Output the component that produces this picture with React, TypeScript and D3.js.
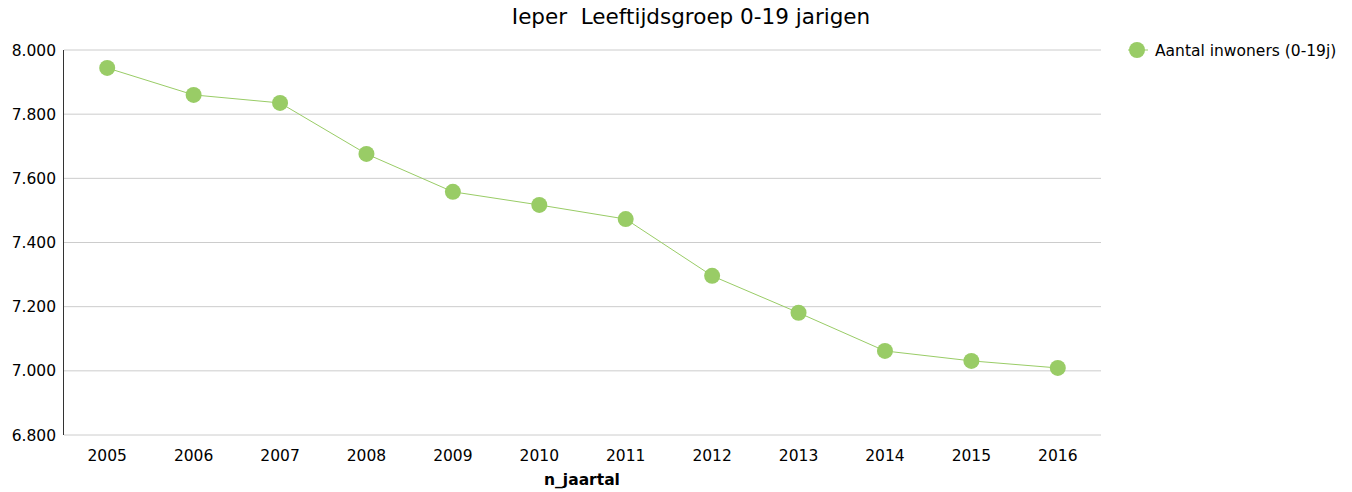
import React from "react";
import * as d3 from "d3";

const years = ["2005", "2006", "2007", "2008", "2009", "2010", "2011", "2012", "2013", "2014", "2015", "2016"];
const inwoners = [7944, 7860, 7835, 7676, 7558, 7517, 7473, 7296, 7181, 7062, 7031, 7009];
const yTicks = [6800, 7000, 7200, 7400, 7600, 7800, 8000];

const W = 1352;
const H = 492;
const margin = { left: 64, right: 251, top: 50, bottom: 57 };
const green = "#99cc66";
const font = "'DejaVu Sans', Verdana, sans-serif";

const fmt = (v: number) => d3.format(",")(v).replace(",", ".");

const App = () => {
  const x = d3
    .scaleBand<string>()
    .domain(years)
    .range([margin.left, W - margin.right]);
  const y = d3
    .scaleLinear()
    .domain([6800, 8000])
    .range([H - margin.bottom, margin.top]);

  const line = d3
    .line<number>()
    .x((_, i) => x(years[i])! + x.bandwidth() / 2)
    .y((d) => y(d));

  return (
    <svg width={W} height={H} style={{ position: "absolute", left: 0, top: 0 }} fontFamily={font}>
      <text x={691} y={24} textAnchor="middle" fontSize={21.5} fill="#000" style={{ whiteSpace: "pre" }}>
        {"Ieper  Leeftijdsgroep 0-19 jarigen"}
      </text>
      {yTicks.map((t) => (
        <g key={t}>
          <line x1={margin.left} x2={W - margin.right} y1={y(t)} y2={y(t)} stroke="#cccccc" strokeWidth={1} />
          <text x={56} y={y(t) + 5.5} textAnchor="end" fontSize={15.5} fill="#000">
            {fmt(t)}
          </text>
        </g>
      ))}
      <line x1={margin.left - 0.5} x2={margin.left - 0.5} y1={margin.top} y2={H - margin.bottom} stroke="#333" strokeWidth={1} />
      {years.map((yr) => (
        <text key={yr} x={x(yr)! + x.bandwidth() / 2} y={461} textAnchor="middle" fontSize={15.5} fill="#000">
          {yr}
        </text>
      ))}
      <text x={582} y={485} textAnchor="middle" fontSize={15.5} fontWeight="bold" fill="#000">
        n_jaartal
      </text>
      <path d={line(inwoners) ?? ""} fill="none" stroke={green} strokeWidth={1} />
      {inwoners.map((v, i) => (
        <circle key={i} cx={x(years[i])! + x.bandwidth() / 2} cy={y(v)} r={8} fill={green} />
      ))}
      <line x1={1128} x2={1148} y1={50} y2={50} stroke={green} strokeWidth={1} />
      <circle cx={1137} cy={50} r={8} fill={green} />
      <text x={1155} y={55.5} fontSize={15.5} fill="#000">
        Aantal inwoners (0-19j)
      </text>
    </svg>
  );
};

export default App;
